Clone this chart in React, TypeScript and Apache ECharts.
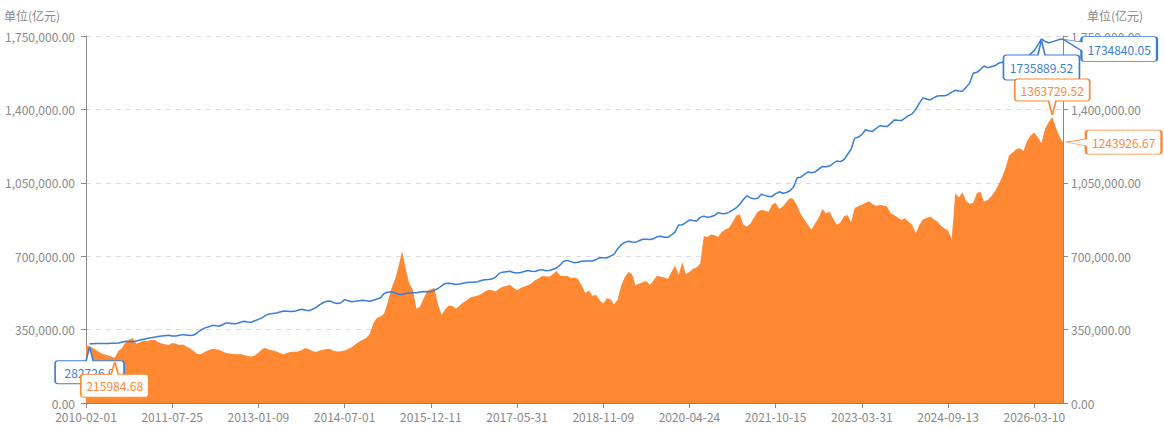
import React, { useEffect, useRef } from "react";
import * as echarts from "echarts";

// x-axis tick labels (one every STEPS_PER_TICK categories)
const TICK_DATES = [
  "2010-02-01", "2011-07-25", "2013-01-09", "2014-07-01", "2015-12-11", "2017-05-31",
  "2018-11-09", "2020-04-24", "2021-10-15", "2023-03-31", "2024-09-13", "2026-03-10",
];
const STEPS_PER_TICK = 24;

// orange area series (亿元)
const MARKET_VALUE = [
  275000, 270000, 262000, 250000, 238000, 232000, 228000, 222000, 215984.68, 248000,
  262000, 290000, 302000, 310000, 282000, 290000, 297000, 294000, 300000, 302000,
  292000, 284000, 280000, 277000, 286000, 282000, 276000, 279000, 270000, 260000,
  248000, 234000, 232000, 243000, 250000, 258000, 256000, 254000, 246000, 238000,
  236000, 234000, 232000, 234000, 229000, 224000, 222000, 226000, 240000, 258000,
  262000, 254000, 250000, 246000, 238000, 231000, 240000, 243000, 244000, 246000,
  252000, 262000, 256000, 248000, 243000, 250000, 254000, 258000, 258000, 248000,
  246000, 247000, 250000, 258000, 266000, 280000, 292000, 302000, 310000, 330000,
  380000, 406000, 412000, 425000, 480000, 545000, 590000, 650000, 725000, 640000,
  570000, 540000, 450000, 460000, 500000, 535000, 542000, 548000, 470000, 420000,
  447000, 465000, 462000, 450000, 465000, 479000, 490000, 503000, 508000, 511000,
  520000, 530000, 540000, 538000, 532000, 545000, 554000, 558000, 564000, 550000,
  538000, 548000, 555000, 562000, 570000, 585000, 594000, 605000, 604000, 602000,
  615000, 630000, 607000, 605000, 607000, 595000, 598000, 590000, 560000, 525000,
  536000, 512000, 515000, 490000, 475000, 500000, 496000, 470000, 492000, 560000,
  600000, 625000, 615000, 560000, 570000, 576000, 582000, 563000, 585000, 607000,
  602000, 598000, 591000, 625000, 656000, 612000, 671000, 615000, 625000, 640000,
  646000, 665000, 795000, 792000, 804000, 800000, 792000, 815000, 828000, 834000,
  862000, 893000, 900000, 850000, 842000, 856000, 885000, 913000, 920000, 918000,
  912000, 945000, 955000, 925000, 937000, 958000, 977000, 972000, 940000, 900000,
  875000, 849000, 826000, 857000, 885000, 925000, 905000, 913000, 880000, 850000,
  860000, 890000, 897000, 862000, 930000, 938000, 945000, 955000, 962000, 948000,
  940000, 944000, 942000, 937000, 905000, 897000, 885000, 873000, 881000, 864000,
  850000, 810000, 850000, 875000, 882000, 889000, 876000, 865000, 845000, 832000,
  822000, 780000, 1000000, 980000, 1005000, 965000, 950000, 955000, 1000000, 1008000,
  960000, 968000, 985000, 1008000, 1040000, 1075000, 1120000, 1180000, 1194000, 1210000,
  1215000, 1202000, 1250000, 1275000, 1290000, 1266000, 1238000, 1306000, 1340000, 1363729.52,
  1315000, 1270000, 1243926.67,
];

// blue line series (亿元)
const MONEY_SUPPLY = [
  null, 282726.9, 283000, 283200, 283400, 283600, 284000, 285000, 285500, 286000,
  290000, 294000, 293000, 292000, 296000, 300000, 304000, 308000, 311000, 314000,
  317000, 319000, 321000, 323000, 319000, 320000, 323000, 326000, 324000, 322000,
  324000, 335000, 348000, 357000, 362000, 369000, 369000, 366000, 373000, 382000,
  380000, 378000, 379000, 385000, 390000, 386000, 385000, 392000, 399000, 406000,
  418000, 424000, 427000, 429000, 434000, 439000, 438000, 436000, 437000, 442000,
  447000, 444000, 440000, 447000, 455000, 468000, 478000, 485000, 486000, 478000,
  474000, 478000, 493000, 488000, 483000, 485000, 488000, 490000, 488000, 485000,
  490000, 496000, 502000, 522000, 528000, 530000, 525000, 518000, 517000, 522000,
  525000, 526000, 526000, 529000, 532000, 531000, 530000, 538000, 546000, 558000,
  570000, 571000, 569000, 565000, 567000, 571000, 575000, 576000, 576000, 578000,
  584000, 588000, 589000, 591000, 600000, 618000, 624000, 626000, 628000, 622000,
  620000, 622000, 627000, 632000, 628000, 627000, 633000, 636000, 631000, 632000,
  638000, 644000, 658000, 676000, 680000, 674000, 669000, 671000, 676000, 677000,
  677000, 677000, 684000, 693000, 693000, 692000, 700000, 709000, 735000, 755000,
  766000, 771000, 768000, 766000, 774000, 781000, 781000, 780000, 783000, 793000,
  795000, 790000, 790000, 802000, 815000, 849000, 850000, 860000, 873000, 870000,
  868000, 885000, 891000, 886000, 888000, 895000, 908000, 903000, 904000, 909000,
  920000, 930000, 948000, 970000, 988000, 978000, 974000, 976000, 995000, 990000,
  985000, 985000, 998000, 1007000, 1000000, 1004000, 1012000, 1030000, 1074000, 1077000,
  1090000, 1101000, 1098000, 1102000, 1115000, 1128000, 1127000, 1130000, 1142000, 1154000,
  1151000, 1160000, 1185000, 1210000, 1262000, 1268000, 1280000, 1303000, 1298000, 1295000,
  1310000, 1322000, 1320000, 1318000, 1332000, 1350000, 1348000, 1347000, 1358000, 1370000,
  1379000, 1400000, 1430000, 1455000, 1450000, 1445000, 1455000, 1464000, 1465000, 1465000,
  1470000, 1482000, 1491000, 1488000, 1487000, 1505000, 1525000, 1572000, 1577000, 1590000,
  1607000, 1599000, 1603000, 1608000, 1620000, 1625000, 1622000, 1620000, 1626000, 1632000,
  1628000, 1630000, 1645000, 1665000, 1680000, 1708000, 1735889.52, 1724000, 1718000, 1722000,
  1728000, 1733000, 1734840.05,
];

const Y_MAX = 1750000;
const Y_INTERVAL = 350000;
const UNIT_NAME = "单位(亿元)";

const BLUE = "#3a7dd6";
const ORANGE = "#ff8833";
const GREY = "#888";
const FONT = "'Noto Sans CJK SC', 'Noto Sans', sans-serif";

function buildCategories(count: number): string[] {
  const ms = TICK_DATES.map((d) => Date.parse(d + "T00:00:00Z"));
  const out: string[] = [];
  for (let i = 0; i < count; i++) {
    const seg = Math.min(Math.floor(i / STEPS_PER_TICK), ms.length - 2);
    const frac = (i - seg * STEPS_PER_TICK) / STEPS_PER_TICK;
    const t = ms[seg] + frac * (ms[seg + 1] - ms[seg]);
    const day = Math.round(t / 86400000) * 86400000;
    out.push(new Date(day).toISOString().slice(0, 10));
  }
  return out;
}

const CATEGORIES = buildCategories(MARKET_VALUE.length);

const R = 3;
// callout below the point, tail pointing up
function calloutBelow(w: number, h: number, t: number, bw: number, gap: number) {
  const c = w / 2;
  const b = t + h;
  const d = `path://M${c} 0L${c + bw / 2} ${t}L${w - R} ${t}Q${w} ${t} ${w} ${t + R}L${w} ${b - R}Q${w} ${b} ${w - R} ${b}L${R} ${b}Q0 ${b} 0 ${b - R}L0 ${t + R}Q0 ${t} ${R} ${t}L${c - bw / 2} ${t}Z`;
  return { symbol: d, symbolSize: [w, b], symbolOffset: [0, b / 2 + gap], labelOffset: [0, t / 2] };
}
// callout above the point, tail pointing down
function calloutAbove(w: number, h: number, t: number, bw: number, gap: number) {
  const c = w / 2;
  const d = `path://M${R} 0L${w - R} 0Q${w} 0 ${w} ${R}L${w} ${h - R}Q${w} ${h} ${w - R} ${h}L${c + bw / 2} ${h}L${c} ${h + t}L${c - bw / 2} ${h}L${R} ${h}Q0 ${h} 0 ${h - R}L0 ${R}Q0 0 ${R} 0Z`;
  return { symbol: d, symbolSize: [w, h + t], symbolOffset: [0, -((h + t) / 2 + gap)], labelOffset: [0, -t / 2] };
}
// callout right of the point, tail pointing left
function calloutRight(w: number, h: number, t: number, ay: number, b1: number, b2: number, gap: number) {
  const x2 = t + w;
  const d = `path://M0 ${ay}L${t} ${b1}L${t} ${R}Q${t} 0 ${t + R} 0L${x2 - R} 0Q${x2} 0 ${x2} ${R}L${x2} ${h - R}Q${x2} ${h} ${x2 - R} ${h}L${t + R} ${h}Q${t} ${h} ${t} ${h - R}L${t} ${b2}Z`;
  return { symbol: d, symbolSize: [x2, h], symbolOffset: [x2 / 2 + gap, h / 2 - ay], labelOffset: [t / 2, 0] };
}

function markItem(base: any, shape: any, color: string) {
  return {
    ...base,
    symbol: shape.symbol,
    symbolSize: shape.symbolSize,
    symbolOffset: shape.symbolOffset,
    itemStyle: { color: "#fff", borderColor: color, borderWidth: 1.2 },
    label: {
      show: true,
      position: "inside",
      offset: shape.labelOffset,
      color,
      fontSize: 12,
      fontFamily: FONT,
      formatter: (p: any) => String(p.value),
    },
  };
}

const fmt = (v: number) =>
  v.toLocaleString("en-US", { minimumFractionDigits: 2, maximumFractionDigits: 2 });

const last = MARKET_VALUE.length - 1;

function buildOption(): any {
  const yAxisBase = {
    type: "value",
    min: 0,
    max: Y_MAX,
    interval: Y_INTERVAL,
    name: UNIT_NAME,
    nameLocation: "end",
    nameGap: 15,
    axisLine: { show: true, lineStyle: { color: GREY } },
    axisTick: { show: true, lineStyle: { color: GREY } },
  };
  return {
    animation: false,
    textStyle: { fontFamily: FONT },
    grid: { left: 86, right: 101, top: 36, bottom: 26 },
    xAxis: {
      type: "category",
      data: CATEGORIES,
      boundaryGap: false,
      axisLine: { lineStyle: { color: GREY } },
      axisTick: { interval: STEPS_PER_TICK - 1, lineStyle: { color: GREY } },
      axisLabel: {
        interval: STEPS_PER_TICK - 1,
        color: GREY,
        fontSize: 12,
        fontFamily: FONT,
        margin: 7,
      },
      splitLine: { show: false },
    },
    yAxis: [
      {
        ...yAxisBase,
        position: "left",
        nameTextStyle: { color: GREY, fontSize: 12, align: "right", padding: [0, 26, 0, 0] },
        axisLabel: { color: GREY, fontSize: 12, fontFamily: FONT, formatter: fmt, margin: 11 },
        splitLine: { show: true, lineStyle: { color: "#ddd", type: [5, 5] } },
      },
      {
        ...yAxisBase,
        position: "right",
        nameTextStyle: { color: GREY, fontSize: 12, align: "left", padding: [0, 0, 0, 24] },
        axisLabel: { color: GREY, fontSize: 12, fontFamily: FONT, formatter: fmt, margin: 8 },
        splitLine: { show: false },
      },
    ],
    series: [
      {
        name: "blue",
        type: "line",
        data: MONEY_SUPPLY,
        symbol: "none",
        connectNulls: false,
        z: 3,
        lineStyle: { color: BLUE, width: 1.5 },
        itemStyle: { color: BLUE },
        markPoint: {
          z: 5,
          data: [
            markItem({ type: "min" }, calloutBelow(69, 23, 14, 7, 3), BLUE),
            markItem({ type: "max" }, calloutBelow(76, 25, 15, 7, 1), BLUE),
            markItem(
              { coord: [CATEGORIES[last], MONEY_SUPPLY[last]], value: MONEY_SUPPLY[last] },
              calloutRight(75.6, 25, 18.4, 2.6, 5.5, 14, 0),
              BLUE
            ),
          ],
        },
      },
      {
        name: "orange",
        type: "line",
        data: MARKET_VALUE,
        symbol: "none",
        z: 2,
        lineStyle: { width: 0, opacity: 0 },
        itemStyle: { color: ORANGE },
        areaStyle: { color: ORANGE, opacity: 1 },
        markPoint: {
          z: 6,
          data: [
            markItem({ type: "min" }, calloutBelow(68, 23, 12.5, 7, 4), ORANGE),
            markItem({ type: "max" }, calloutAbove(75, 22, 14, 7.4, 2), ORANGE),
            markItem(
              { coord: [CATEGORIES[last], MARKET_VALUE[last]], value: MARKET_VALUE[last] },
              calloutRight(75.7, 24, 19.3, 12, 9, 15.7, 3.5),
              ORANGE
            ),
          ],
        },
      },
    ],
  };
}

export default function App() {
  const ref = useRef<HTMLDivElement>(null);
  useEffect(() => {
    document.body.style.margin = "0";
    if (!ref.current) return;
    const chart = echarts.init(ref.current, null, { renderer: "svg" });
    chart.setOption(buildOption());
    return () => chart.dispose();
  }, []);
  return <div ref={ref} style={{ width: 1164, height: 429 }} />;
}
